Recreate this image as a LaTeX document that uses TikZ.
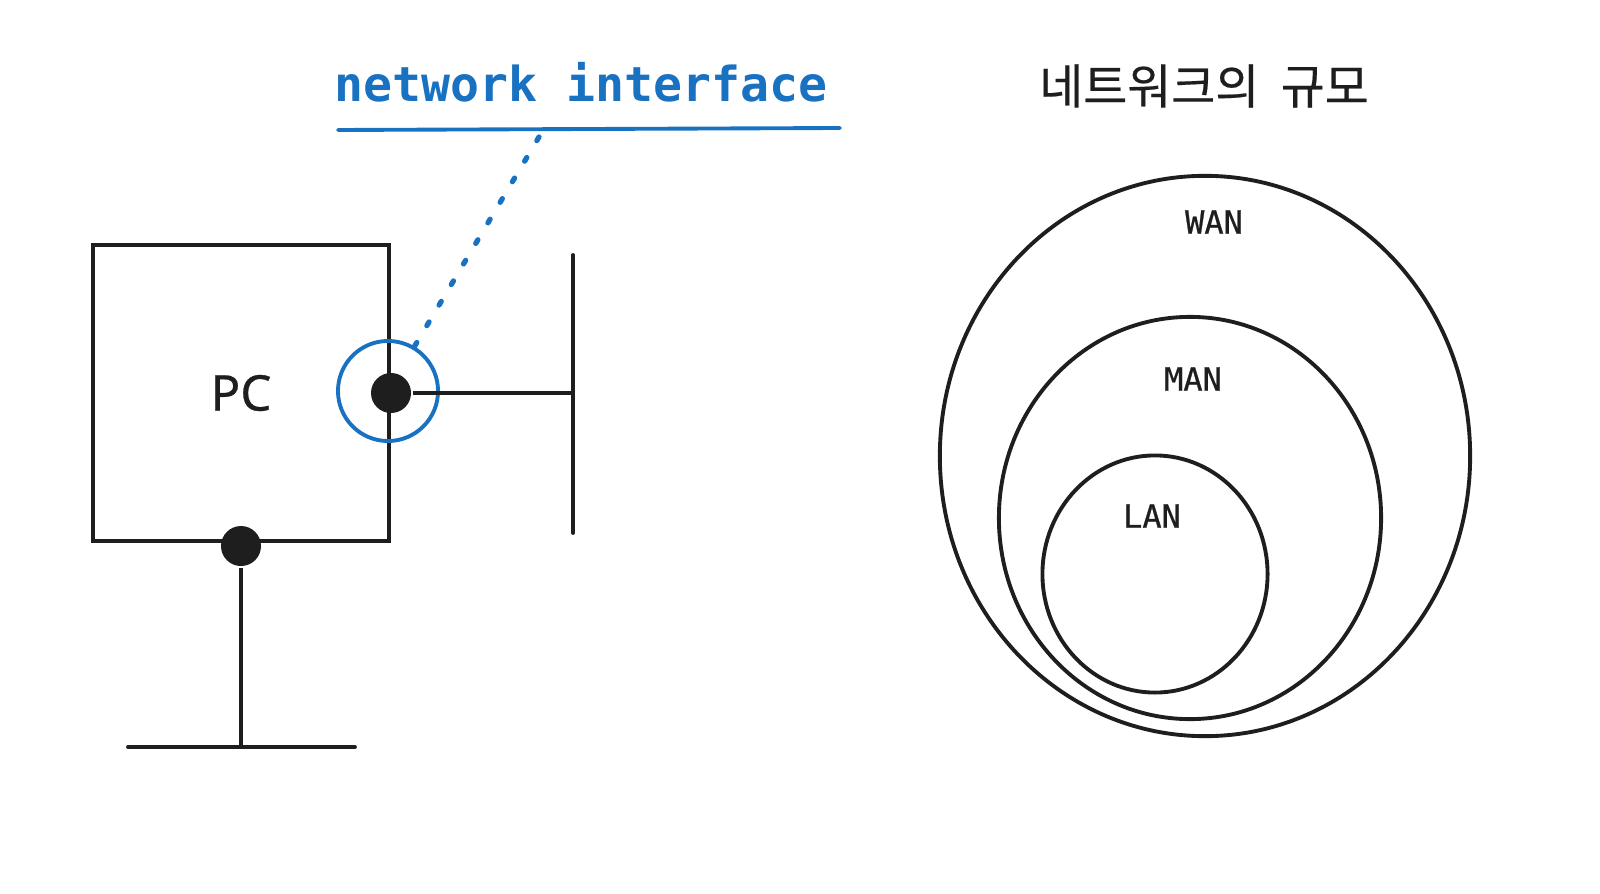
\documentclass[tikz,border=0pt]{standalone}
\usepackage{fontspec}
\setmainfont{Noto Sans}
\setmonofont{DejaVu Sans Mono}
\newfontfamily\krfont[FakeBold=0.4]{Noto Sans CJK KR}
\newfontfamily\tagfont[FakeBold=0.7]{DejaVu Sans Mono}
\newfontfamily\pcfont[FakeBold=0.6]{Noto Sans}
\usetikzlibrary{shapes.geometric}
\definecolor{ink}{HTML}{1E1E1E}
\definecolor{nic-blue}{HTML}{1971C2}

\begin{document}
\begin{tikzpicture}[x=0.01cm, y=-0.01cm, line width=1.1pt, draw=ink,
        every node/.style={text=ink},
        dot/.style={circle, fill=ink, inner sep=0pt, minimum size=0.40cm},
        area/.style={draw=ink, ellipse, line width=1.1pt, inner sep=0pt},
        areatag/.style={font=\tagfont\fontsize{9.1}{11}\selectfont}]
      \useasboundingbox (0,0) rectangle (1600,894);
      % left side: PC with its interfaces
      \node[draw=ink, line width=1.1pt, minimum width=2.96cm, minimum height=2.96cm,
            font=\pcfont\fontsize{14}{16}\selectfont]
            (PC) at (241,393) {PC};
      \node[dot] (nicdot) at (PC.east) {};
      \node[dot] (lowdot) at ([yshift=-0.03cm]PC.south) {};
      \node[draw=nic-blue, line width=1.1pt, circle, inner sep=0pt,
            minimum size=1.0cm] (nic) at (388,391) {};
      \coordinate (bustop) at (573,255);
      \coordinate (busbot) at (573,533);
      \draw[line cap=round] (bustop) -- (busbot);
      \draw (nicdot) -- (nicdot -| bustop);
      \coordinate (lineleft) at (128,747);
      \coordinate (lineright) at (355,747);
      \draw[line cap=round] (lineleft) -- (lineright);
      \draw (lowdot) -- (lowdot |- lineleft);
      % callout
      \node[font=\ttfamily\bfseries\fontsize{13.7}{16}\selectfont,
            text=nic-blue] (niclabel) at (581,82) {network interface};
      \coordinate (ulleft) at (338,130);
      \coordinate (ulright) at (840,128);
      \coordinate (ulfoot) at (539,137);
      \draw[nic-blue, line cap=round] (ulleft) -- (ulright);
      \draw[nic-blue, line width=1.5pt, line cap=round,
            dash pattern=on 1.2pt off 5.6pt] (ulfoot) -- (nic);
      % right side: scale of networks
      \node[font=\krfont\fontsize{13.6}{16}\selectfont]
            (scaletitle) at (1204,86) {네트워크의 \ 규모};
      \node[area, minimum width=5.30cm, minimum height=5.60cm]
            (wan) at (1205,456) {};
      \node[area, minimum width=3.82cm, minimum height=4.02cm]
            (man) at (1190,518) {};
      \node[area, minimum width=2.25cm, minimum height=2.37cm]
            (lan) at (1155,574) {};
      \node[areatag] (wantag) at (1214,222) {WAN};
      \node[areatag] (mantag) at (1193,379) {MAN};
      \node[areatag] (lantag) at (1152,516) {LAN};
    \end{tikzpicture}
\end{document}
